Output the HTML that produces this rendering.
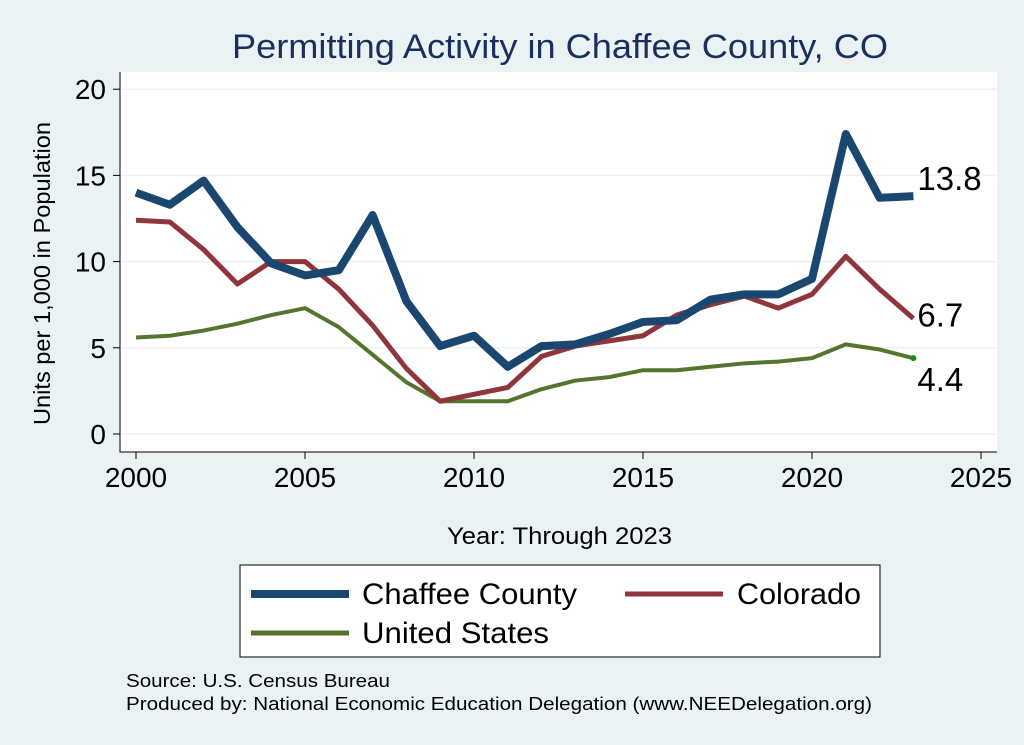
<!DOCTYPE html>
<html><head><meta charset="utf-8"><style>
body{margin:0;background:#eaf2f3;font-family:"Liberation Sans",Arial,sans-serif;}
svg{display:block}
</style></head><body>
<svg id="chart" width="1024" height="745">
<rect width="1024" height="745" fill="#eaf2f3"/>
<text x="232" y="58" font-size="34" fill="#1a2f5f" textLength="656" lengthAdjust="spacingAndGlyphs">Permitting Activity in Chaffee County, CO</text>
<rect x="120" y="72" width="877" height="380" fill="#fff"/>
<g id="grid"></g><g id="axes"></g><g id="series"></g><g id="labels"></g>
<text x="0" y="0" font-size="23" fill="#000" textLength="303" lengthAdjust="spacingAndGlyphs" transform="translate(50 425) rotate(-90)">Units per 1,000 in Population</text>
<text x="447" y="544" font-size="24" fill="#000" textLength="225" lengthAdjust="spacingAndGlyphs">Year: Through 2023</text>
<g>
<rect x="240" y="565" width="640" height="92" fill="#fff" stroke="#000" stroke-width="1"/>
<g><line x1="251" y1="594" x2="349" y2="594" stroke="#1a476f" stroke-width="8"/><text x="362" y="604" font-size="30" textLength="215" lengthAdjust="spacingAndGlyphs">Chaffee County</text></g>
<g><line x1="625" y1="594" x2="723" y2="594" stroke="#90353b" stroke-width="5"/><text x="737" y="604" font-size="30" textLength="124" lengthAdjust="spacingAndGlyphs">Colorado</text></g>
<g><line x1="251" y1="633" x2="349" y2="633" stroke="#55752f" stroke-width="5"/><text x="362" y="643" font-size="30" textLength="187" lengthAdjust="spacingAndGlyphs">United States</text></g>
</g>
<text x="126" y="687" font-size="18" textLength="264" lengthAdjust="spacingAndGlyphs">Source: U.S. Census Bureau</text>
<text x="126" y="710" font-size="18" textLength="746" lengthAdjust="spacingAndGlyphs">Produced by: National Economic Education Delegation (www.NEEDelegation.org)</text>
</svg>
<script>
const years=[2000,2001,2002,2003,2004,2005,2006,2007,2008,2009,2010,2011,2012,2013,2014,2015,2016,2017,2018,2019,2020,2021,2022,2023];
const chaffee=[14.0,13.3,14.7,12.0,9.9,9.2,9.5,12.7,7.7,5.1,5.7,3.9,5.1,5.2,5.8,6.5,6.6,7.8,8.1,8.1,9.0,17.4,13.7,13.8];
const colorado=[12.4,12.3,10.7,8.7,10.0,10.0,8.4,6.3,3.8,1.9,2.3,2.7,4.5,5.1,5.4,5.7,6.9,7.5,8.0,7.3,8.1,10.3,8.4,6.7];
const us=[5.6,5.7,6.0,6.4,6.9,7.3,6.2,4.6,3.0,1.9,1.9,1.9,2.6,3.1,3.3,3.7,3.7,3.9,4.1,4.2,4.4,5.2,4.9,4.4];
const xTicks=[2000,2005,2010,2015,2020,2025];
const yTicks=[0,5,10,15,20];
const NS="http://www.w3.org/2000/svg";
const X=v=>136+(v-2000)*33.8;
const Y=v=>434-v*17.24;
function mk(tag,attrs,parent){const e=document.createElementNS(NS,tag);for(const k in attrs)e.setAttribute(k,attrs[k]);document.getElementById(parent).appendChild(e);return e;}
yTicks.forEach(t=>{
 const g=mk('line',{x1:120,x2:997,y1:Y(t),y2:Y(t),stroke:'#eaf2f3','stroke-width':1.5},'grid');
 
 
 const tk=mk('line',{x1:113,x2:120,y1:Y(t),y2:Y(t),stroke:'#000'},'axes');
 
 
 const tx=mk('text',{x:106,y:Y(t)+10,'font-size':28,'text-anchor':'end'},'axes');tx.textContent=t;
 
 
});
xTicks.forEach(t=>{
 const tk=mk('line',{x1:X(t),x2:X(t),y1:452,y2:459,stroke:'#000'},'axes');
 
 
 const tx=mk('text',{x:X(t),y:487,'font-size':28,'text-anchor':'middle'},'axes');tx.textContent=t;
 
 
});
const ax=mk('path',{d:'M120 72V452H997',fill:'none',stroke:'#000','stroke-width':1},'axes');


function line(data,color,w,name){
 const p=mk('polyline',{points:data.map((v,i)=>X(years[i])+','+Y(v)).join(' '),fill:'none',stroke:color,'stroke-width':w,'stroke-linejoin':'round'},'series');
 
 
}
line(us,'#55752f',4,'us-line');
line(colorado,'#90353b',5,'colorado-line');
line(chaffee,'#1a476f',8,'chaffee-line');
const dot=mk('circle',{cx:X(years[years.length-1]),cy:Y(us[us.length-1]),r:3,fill:'#1a8a1a'},'series');


[[chaffee,'chaffee-end-label',-18],[colorado,'colorado-end-label',-4],[us,'us-end-label',21]].forEach(([d,n,dy])=>{
 const v=d[d.length-1];
 const t=mk('text',{x:X(years[years.length-1])+4,y:Y(v)+dy+12,'font-size':33},'labels');t.textContent=v.toFixed(1);
 
 
});
</script>
</body></html>
